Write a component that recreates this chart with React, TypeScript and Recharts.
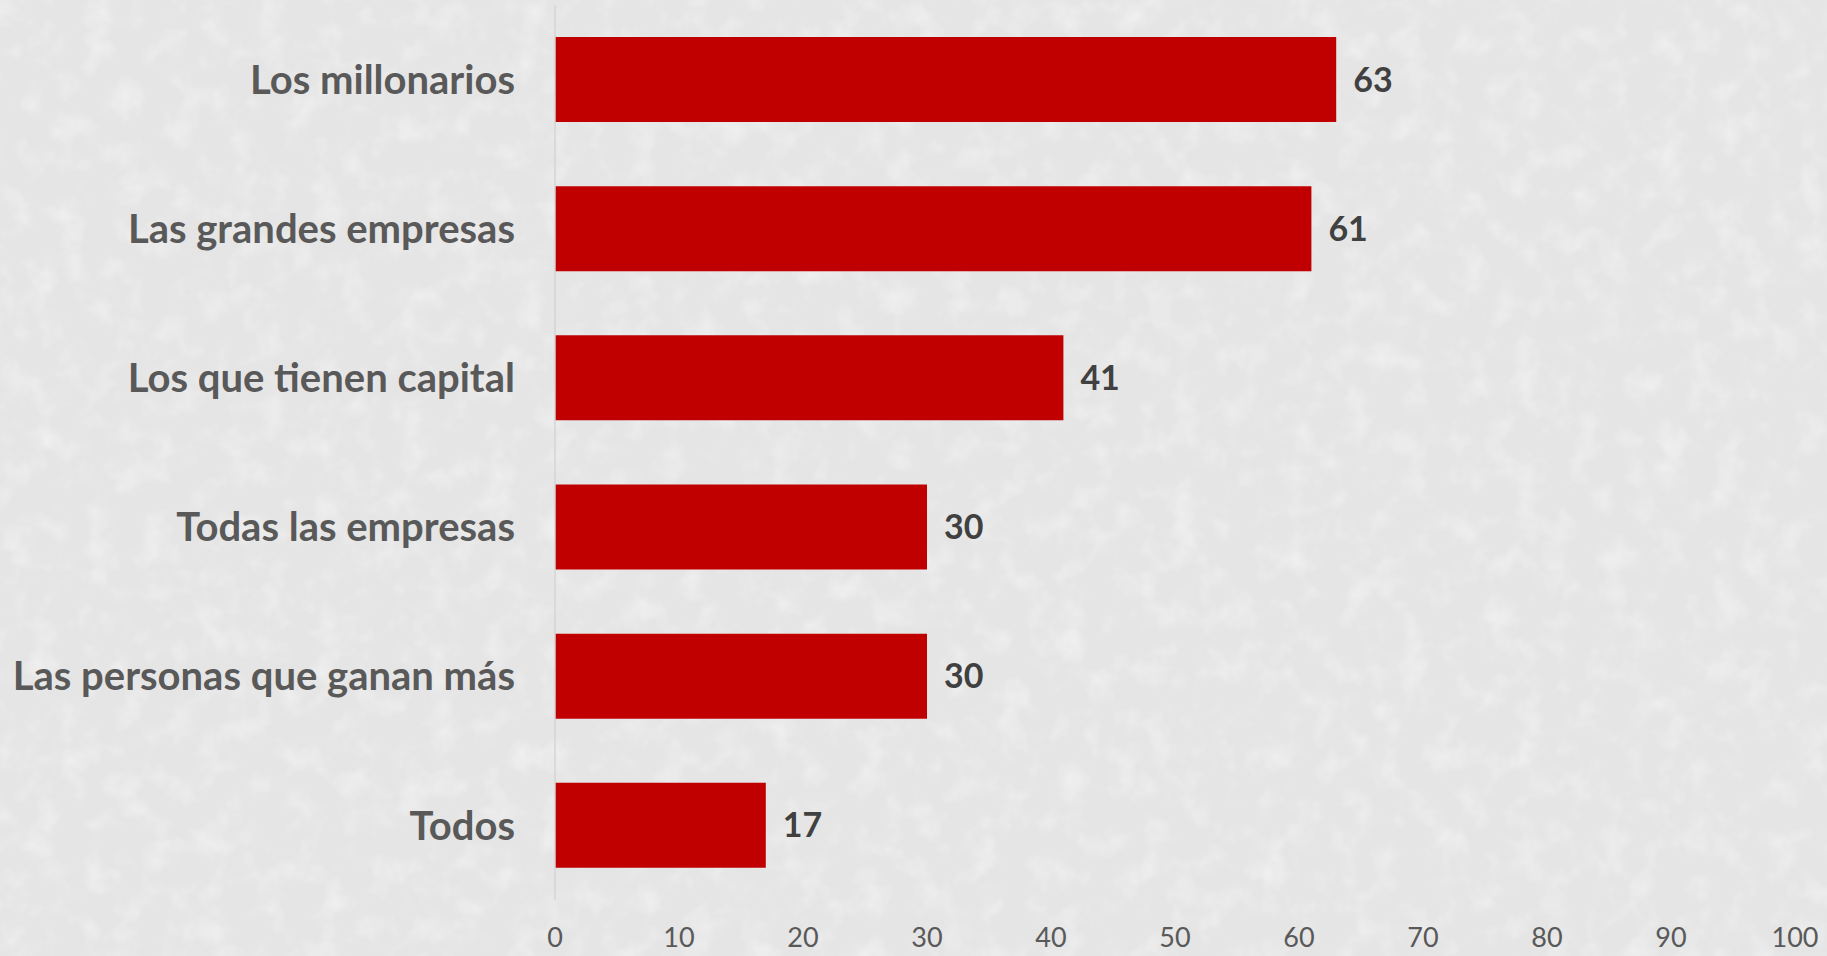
import React from 'react';
import { BarChart, Bar, XAxis, YAxis, LabelList } from 'recharts';

const categories = [
  'Los millonarios',
  'Las grandes empresas',
  'Los que tienen capital',
  'Todas las empresas',
  'Las personas que ganan más',
  'Todos',
];
const values = [63, 61, 41, 30, 30, 17];
const xTicks = [0, 10, 20, 30, 40, 50, 60, 70, 80, 90, 100];

const data = categories.map((name, i) => ({ name, value: values[i] }));

const FONT = 'Lato, "Open Sans", sans-serif';

export default function App() {
  return (
    <div style={{ position: 'fixed', left: 0, top: 0, width: 1827, height: 956, background: '#e5e5e5', overflow: 'hidden' }}>
      <svg width={1827} height={956} style={{ position: 'absolute', left: 0, top: 0 }}>
        <defs>
          <filter id="tex" x="0" y="0" width="100%" height="100%">
            <feTurbulence type="fractalNoise" baseFrequency="0.035" numOctaves={3} seed={4} result="n" />
            <feColorMatrix type="matrix" values="0 0 0 0 1  0 0 0 0 1  0 0 0 0 1  1.6 0 0 0 -0.75" />
          </filter>
        </defs>
        <rect width={1827} height={956} filter="url(#tex)" opacity={0.55} />
      </svg>
      <div style={{ position: 'absolute', left: 0, top: 0 }}>
        <BarChart
          width={1827}
          height={956}
          data={data}
          layout="vertical"
          margin={{ top: 5, right: 32, bottom: 0, left: 0 }}
          barCategoryGap="21%"
        >
          <XAxis
            type="number"
            domain={[0, 100]}
            ticks={xTicks}
            axisLine={false}
            tickLine={false}
            height={56}
            tickMargin={22}
            interval={0}
            tick={{ fill: '#595959', fontSize: 27, fontFamily: FONT }}
          />
          <YAxis
            type="category"
            dataKey="name"
            width={555}
            axisLine={{ stroke: '#d4d4d4', strokeWidth: 1.5 }}
            tickLine={false}
            tickMargin={34}
            interval={0}
            tick={{ fill: '#595959', fontSize: 40, fontWeight: 700, fontFamily: FONT }}
          />
          <Bar dataKey="value" fill="#C00000" barSize={85} isAnimationActive={false}>
            <LabelList
              dataKey="value"
              position="right"
              offset={17}
              fill="#404040"
              fontSize={34}
              fontWeight={700}
              fontFamily={FONT}
            />
          </Bar>
        </BarChart>
      </div>
    </div>
  );
}
